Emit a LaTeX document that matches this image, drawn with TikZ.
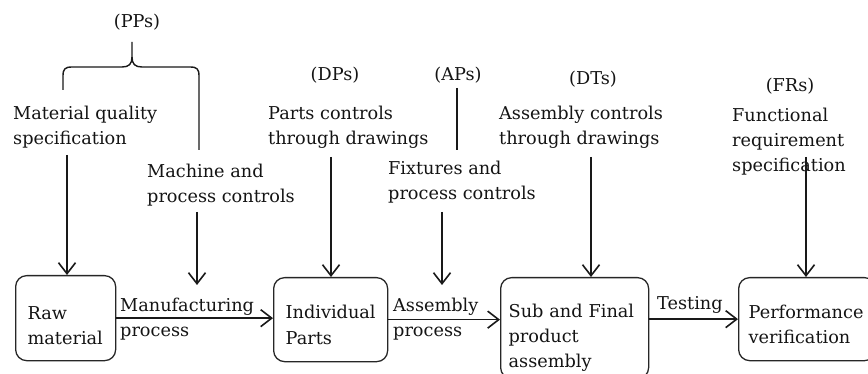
\documentclass[tikz,border=0pt]{standalone}
\usepackage{fontspec}
\setmainfont{DejaVu Serif}
\usetikzlibrary{arrows.meta}
\hyphenpenalty=10000
\begin{document}
\begin{tikzpicture}[x=1pt,y=-1pt,
  every node/.style={font=\fontsize{17.7}{25.3}\selectfont, text=black!92, inner sep=0pt},
  lbl/.style={anchor=base west, align=left},
  tag/.style={anchor=base},
  box/.style={draw=black!85, rounded corners=11pt, line width=1.3pt, anchor=north west, align=left, inner xsep=12pt},
  conn/.style={line width=1.6pt, draw=black!90},
  arr/.style={conn, -{Straight Barb[length=11pt,width=17pt]}},
]
\useasboundingbox (0,0) rectangle (868,374);

% tags
\node[tag] (pps) at (137,28) {(PPs)};
\node[tag] (dps) at (335,81) {(DPs)};
\node[tag] (aps) at (458,81) {(APs)};
\node[tag] (dts) at (593,85) {(DTs)};
\node[tag] (frs) at (790,92) {(FRs)};

% control texts (anchored at the baseline of their last line)
\node[lbl] (mq) at (13,145) {Material quality\\specification};
\node[lbl] (mp) at (147,203) {Machine and\\process controls};
\node[lbl] (pc) at (268,145) {Parts controls\\through drawings};
\node[lbl] (fx) at (388,200) {Fixtures and\\process controls};
\node[lbl] (ac) at (499,145) {Assembly controls\\through drawings};
\node[lbl] (fr) at (732,172) {Functional\\requirement\\specification};

% boxes
\node[box, text width=76pt, minimum height=85pt] (raw) at (15,275) {\rule{0pt}{28pt}Raw\\material};
\node[box, text width=90pt, minimum height=84pt] (ind) at (273,277) {\rule{0pt}{24pt}Individual\\Parts};
\node[box, inner xsep=8pt, text width=132pt, minimum height=101pt] (sub) at (500,277) {\rule{0pt}{33pt}Sub and Final\\product\\assembly};
\node[box, inner xsep=10pt, text width=117pt, minimum height=83pt] (perf) at (738,277) {\rule{0pt}{24pt}Performance\\verification};

% arrow labels (anchored at the baseline of their last line)
\node[lbl] (mfg) at (120,337) {Manufacturing\\process};
\node[lbl] (asm) at (393,337) {Assembly\\process};
\node[lbl] (tst) at (657,309) {Testing};

% brace
\draw[conn, line width=1.4pt] (63,90) -- (63,76) .. controls (63,69) and (65,67) .. (72,67) -- (122,67) .. controls (129,67) and (132,64) .. (132,57) -- (132,42);
\draw[conn, line width=1.4pt] (132,57) .. controls (132,64) and (135,67) .. (142,67) -- (190,67) .. controls (197,67) and (199,69) .. (199,76) -- (199,150);

% coordinates
\coordinate (s1) at (67,155);
\coordinate (s2) at (197,212);
\coordinate (e2) at (197,285);
\coordinate (s3) at (331,157);
\coordinate (ap1) at (457,88);
\coordinate (ap2) at (457,150);
\coordinate (s4) at (442,212);
\coordinate (e4) at (442,285);
\coordinate (s5) at (591,157);
\coordinate (s6) at (806,157);

\draw[arr] (s1) -- (s1 |- raw.north);
\draw[arr] (s2) -- (e2);
\draw[arr] (s3) -- (s3 |- ind.north);
\draw[conn] (ap1) -- (ap2);
\draw[arr] (s4) -- (e4);
\draw[arr] (s5) -- (s5 |- sub.north);
\draw[arr] (s6) -- (s6 |- perf.north);

\draw[arr] (raw.east) -- (raw.east -| ind.west);
\draw[arr] (ind.east) -- (ind.east -| sub.west);
\draw[arr] (sub.east |- perf.west) -- (perf.west);
\end{tikzpicture}
\end{document}
